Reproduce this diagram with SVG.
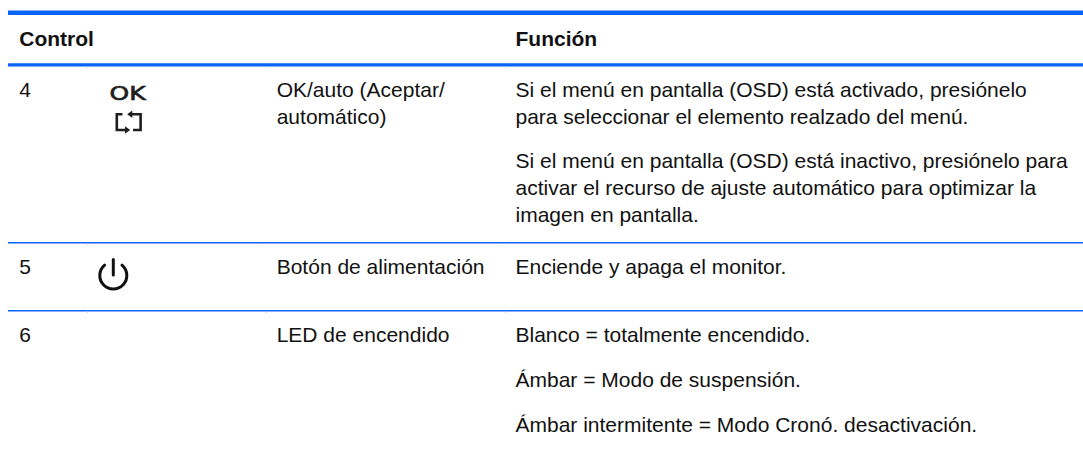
<svg xmlns="http://www.w3.org/2000/svg" width="1083" height="449" viewBox="0 0 1083 449">
  <style>
    .t { font-family: "Liberation Sans", Arial, sans-serif; font-size: 21px; fill: #111; }
    .h { font-family: "Liberation Sans", Arial, sans-serif; font-size: 21px; font-weight: bold; fill: #111; }
    .ok { font-family: "DejaVu Sans", "Liberation Sans", sans-serif; font-size: 19.5px; fill: #1e1e1e; stroke: #1e1e1e; stroke-width: 0.7; }
    .rule { stroke: #0a64f5; }
    .tick { stroke: #c5d3ea; stroke-width: 1; }
    .ico { fill: none; stroke: #1e1e1e; stroke-width: 2.6; }
    .pwr { fill: none; stroke: #111; stroke-width: 3; stroke-linecap: round; }
  </style>
  <rect width="1083" height="449" fill="#fff"/>

  <g id="rules">
    <line class="rule" x1="8" y1="12.8" x2="1083" y2="12.8" stroke-width="4.6"/>
    <line class="rule" x1="8" y1="64.8" x2="1083" y2="64.8" stroke-width="3.2"/>
    <line class="rule" x1="8" y1="242.7" x2="1083" y2="242.7" stroke-width="1.4"/>
    <line class="rule" x1="8" y1="310.7" x2="1083" y2="310.7" stroke-width="1.4"/>
    <g id="ticks">
      <line class="tick" x1="87.5" y1="66.5" x2="87.5" y2="68"/>
      <line class="tick" x1="266.5" y1="66.5" x2="266.5" y2="68"/>
      <line class="tick" x1="505.5" y1="66.5" x2="505.5" y2="68"/>
      <line class="tick" x1="87.5" y1="243.5" x2="87.5" y2="245"/>
      <line class="tick" x1="266.5" y1="243.5" x2="266.5" y2="245"/>
      <line class="tick" x1="505.5" y1="243.5" x2="505.5" y2="245"/>
      <line class="tick" x1="87.5" y1="311.5" x2="87.5" y2="313"/>
      <line class="tick" x1="266.5" y1="311.5" x2="266.5" y2="313"/>
      <line class="tick" x1="505.5" y1="311.5" x2="505.5" y2="313"/>
    </g>
  </g>

  <g id="header">
    <text class="h" x="19.3" y="46">Control</text>
    <text class="h" x="515.5" y="46">Función</text>
  </g>

  <g id="row4">
    <text class="t" x="19.3" y="96.7">4</text>
    <text class="ok" x="109.5" y="100" textLength="36" lengthAdjust="spacingAndGlyphs">OK</text>
    <g id="auto-icon">
      <path class="ico" d="M122.5,114.3 H116.8 V130 H126"/>
      <polygon points="125,126.3 130.2,130 125,133.7" fill="#1e1e1e"/>
      <path class="ico" d="M133,130 H140.6 V114.3 H131.5"/>
      <polygon points="132.3,110.6 127.2,114.3 132.3,118" fill="#1e1e1e"/>
    </g>
    <text class="t" x="276.7" y="96.7">OK/auto (Aceptar/</text>
    <text class="t" x="276.7" y="123.7">automático)</text>
    <text class="t" x="515.5" y="96.7">Si el menú en pantalla (OSD) está activado, presiónelo</text>
    <text class="t" x="515.5" y="123.7">para seleccionar el elemento realzado del menú.</text>
    <text class="t" x="515.5" y="168.3">Si el menú en pantalla (OSD) está inactivo, presiónelo para</text>
    <text class="t" x="515.5" y="195.2">activar el recurso de ajuste automático para optimizar la</text>
    <text class="t" x="515.5" y="222">imagen en pantalla.</text>
  </g>

  <g id="row5">
    <text class="t" x="19.3" y="274">5</text>
    <g id="power-icon">
      <path class="pwr" d="M104.6,265.2 A13.5,13.5 0 1 0 122,265.2"/>
      <line class="pwr" x1="113.3" y1="259.5" x2="113.3" y2="275"/>
    </g>
    <text class="t" x="276.7" y="274">Botón de alimentación</text>
    <text class="t" x="515.5" y="274">Enciende y apaga el monitor.</text>
  </g>

  <g id="row6">
    <text class="t" x="19.3" y="341.7">6</text>
    <text class="t" x="276.7" y="341.7">LED de encendido</text>
    <text class="t" x="515.5" y="341.7">Blanco = totalmente encendido.</text>
    <text class="t" x="515.5" y="386.7">Ámbar = Modo de suspensión.</text>
    <text class="t" x="515.5" y="432">Ámbar intermitente = Modo Cronó. desactivación.</text>
  </g>
</svg>
